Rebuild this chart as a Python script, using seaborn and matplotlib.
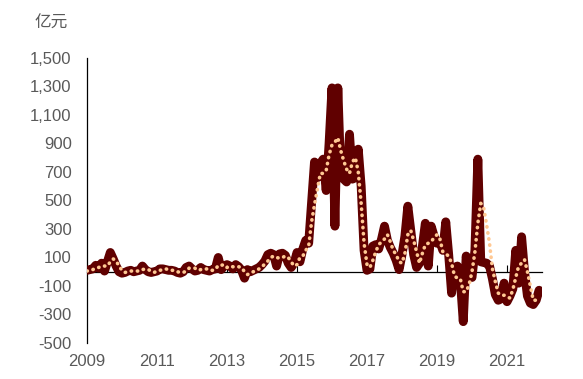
import numpy as np
import pandas as pd
import matplotlib
matplotlib.use("Agg")
import matplotlib.pyplot as plt
import seaborn as sns

# monthly values, Jan 2009 - Dec 2021 (亿元)
main_vals = [
    10, 15, 20, 45, 25, 60, 5, 70, 135, 90, 40, 0,            # 2009
    -10, -5, 5, 10, 0, 5, 10, 40, 15, 0, -5, 0,               # 2010
    5, 20, 20, 15, 10, 10, 5, -5, -10, 0, 30, 40,             # 2011
    20, 5, 10, 30, 15, 10, 5, 15, 20, 100, 15, 40,            # 2012
    50, 40, 20, 50, 35, 10, -45, 15, 0, 10, 20, 30,           # 2013
    50, 75, 120, 130, 120, 40, 125, 130, 115, 60, 30, 60,     # 2014
    135, 70, 160, 220, 200, 480, 770, 660, 760, 790, 570, 900,      # 2015
    1290, 320, 1290, 680, 650, 630, 965, 650, 660, 860, 600, 150,   # 2016
    10, 20, 180, 190, 160, 230, 320, 220, 170, 130, 80, 15,   # 2017
    120, 250, 460, 290, 120, 30, 60, 180, 340, 40, 320, 250,  # 2018
    200, 210, 150, 350, 120, -150, 30, 40, -60, -350, 110, 0, # 2019
    -40, 150, 790, 70, 65, 60, 40, -50, -160, -200, -190, -80,      # 2020
    -210, -170, -120, 150, -80, 245, 0, -170, -220, -230, -200, -130,  # 2021
]
smooth_vals = [
    5, 10, 15, 25, 30, 40, 40, 40, 70, 90, 75, 40,
    10, -5, 0, 5, 5, 5, 5, 15, 20, 15, 5, -5,
    5, 10, 15, 20, 15, 10, 10, 0, -5, -5, 5, 25,
    25, 25, 10, 15, 15, 20, 10, 10, 15, 45, 45, 50,
    30, 40, 35, 35, 35, 30, 0, -20, -10, 0, 10, 20,
    35, 55, 75, 100, 110, 100, 95, 100, 110, 100, 70, 40,
    50, 100, 110, 150, 180, 350, 470, 580, 690, 690, 710, 820,
    890, 910, 940, 850, 780, 720, 690, 770, 800, 700, 480, 200,
    50, 30, 80, 140, 190, 210, 230, 260, 210, 150, 120, 70,
    60, 130, 260, 290, 220, 140, 60, 130, 190, 200, 210, 240,
    260, 230, 140, 125, 110, 60, -30, -45, -50, -140, -140, -90,
    0, 140, 340, 480, 450, 330, 200, 20, -70, -150, -165, -165,
    -175, -185, -125, -40, 40, 60, 85, 0, -100, -200, -200, np.nan,
]
year_ticks = [2009, 2011, 2013, 2015, 2017, 2019, 2021]
y_ticks = list(range(-500, 1501, 200))

dates = pd.date_range("2009-01-01", periods=len(main_vals), freq="MS")
df = pd.DataFrame({
    "t": dates.year + (dates.month - 1) / 12,
    "main": main_vals,
    "smooth": smooth_vals,
})

sns.set_style("white")
plt.rcParams["font.family"] = ["Liberation Sans", "Noto Sans CJK SC", "DejaVu Sans"]

fig = plt.figure(figsize=(5.83, 3.79), dpi=100)
ax = fig.add_axes([0.1492, 0.095, 0.7805, 0.752])

sns.lineplot(data=df, x="t", y="main", ax=ax, color="#600000", linewidth=6.4,
             solid_capstyle="round", solid_joinstyle="round", zorder=3)
sns.lineplot(data=df, x="t", y="smooth", ax=ax, color="#FFC893", linewidth=2.6,
             linestyle=(0, (0.1, 1.6)), dash_capstyle="round", zorder=4)

ax.set_xlim(2009, 2022)
ax.set_ylim(-500, 1500)
ax.set_yticks(y_ticks)
ax.set_yticklabels([f"{v:,}" for v in y_ticks])
ax.set_xticks(year_ticks)
ax.set_xticklabels([str(y) for y in year_ticks])
ax.tick_params(axis="y", length=0, pad=11, labelsize=12, labelcolor="#595959")
ax.tick_params(axis="x", length=0, pad=8, labelsize=12, labelcolor="#595959")
ax.set_xlabel("")
ax.set_ylabel("")

for s in ["top", "right", "bottom"]:
    ax.spines[s].set_visible(False)
ax.spines["left"].set_color("black")
ax.spines["left"].set_linewidth(0.9)

# zero line with year ticks pointing up
zero_axis = ax.secondary_xaxis(0.25)
zero_axis.set_xticks(year_ticks[1:])
zero_axis.tick_params(axis="x", direction="in", length=5, width=0.8,
                      color="black", labelbottom=False, labeltop=False)
zero_axis.spines["bottom"].set_color("black")
zero_axis.spines["bottom"].set_linewidth(0.9)
zero_axis.set_zorder(2)

fig.text(0.06, 0.96, "亿元", fontsize=12, color="#595959", va="top",
         family=["Noto Sans CJK SC", "DejaVu Sans"])

fig.savefig("out.png", dpi=100)
